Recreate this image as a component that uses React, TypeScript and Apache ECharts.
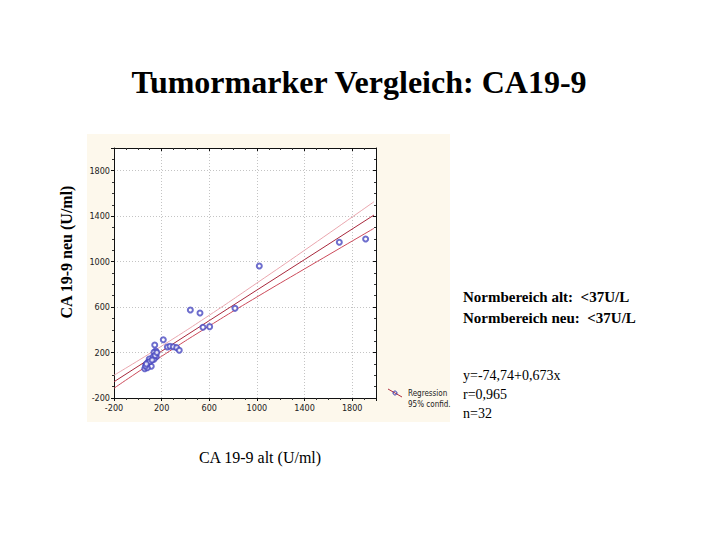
import React, { useEffect, useRef } from "react";
import * as echarts from "echarts";

// CA 19-9: alt (x) vs neu (y), U/ml
const altValues = [441, 522, 816, 547, 603, 1020, 1692, 1913, 214, 142, 150, 136, 248, 270, 298, 326, 348, 155, 125, 136, 96, 85, 113, 69, 58, 80, 65, 100, 145, 72, 160, 120];
const neuValues = [574, 548, 589, 422, 428, 962, 1170, 1199, 313, 266, 214, 202, 249, 255, 251, 243, 220, 163, 158, 141, 143, 114, 79, 90, 58, 67, 82, 120, 175, 100, 200, 135];

// regression line and 95% confidence band as drawn in the plot
const lineX = [-200, 200, 600, 1000, 1400, 1983];
const regressionY = [-57, 212, 481, 750, 1018, 1410];
const upperY = [0, 257, 528, 812, 1100, 1527];
const lowerY = [-114, 167, 434, 689, 936, 1293];

const axisTicks = { min: -200, max: 2000, interval: 400 };

const titleText = "Tumormarker Vergleich: CA19-9";
const xAxisTitle = "CA 19-9 alt (U/ml)";
const yAxisTitle = "CA 19-9 neu (U/ml)";
const normLines = ["Normbereich alt:  <37U/L", "Normbereich neu:  <37U/L"];
const statLines = ["y=-74,74+0,673x", "r=0,965", "n=32"];
const legendLines = ["Regression", "95% confid."];

const serif = '"Liberation Serif", "Times New Roman", serif';
const sans = '"Liberation Sans Narrow", "DejaVu Sans Condensed", "Liberation Sans", Arial, sans-serif';

export default function App() {
  const ref = useRef<HTMLDivElement>(null);
  useEffect(() => {
    if (!ref.current) return;
    const chart = echarts.init(ref.current, null, { renderer: "svg" });
    const pts = altValues.map((x, i) => [x, neuValues[i]]);
    const mk = (ys: number[]) => lineX.map((x, i) => [x, ys[i]]);
    const fmt = (v: number) => (v === axisTicks.max ? "" : String(v));
    const baseAxis = {
      min: axisTicks.min,
      max: axisTicks.max,
      interval: axisTicks.interval,
    };
    const axisLine = { show: true, onZero: false, lineStyle: { color: "#111" } };
    const split = { show: true, lineStyle: { color: "#c4c4c4", type: [1, 2], width: 1 } };
    const grid = { left: 114, top: 148, width: 262, height: 250 };
    chart.setOption({
      animation: false,
      backgroundColor: "#ffffff",
      grid: { ...grid, show: false },
      xAxis: [
        {
          type: "value",
          ...baseAxis,
          position: "bottom",
          axisLine,
          axisTick: { show: true, length: 3, lineStyle: { color: "#111" } },
          minorTick: { show: true, splitNumber: 4, length: 2, lineStyle: { color: "#333" } },
          axisLabel: { fontSize: 9, fontFamily: sans, color: "#222", margin: 5, formatter: fmt },
          splitLine: split,
        },
        {
          type: "value",
          ...baseAxis,
          position: "top",
          axisLine,
          axisTick: { show: true, inside: true, length: 3, lineStyle: { color: "#111" } },
          minorTick: { show: true, splitNumber: 4, length: 2, lineStyle: { color: "#333" } },
          axisLabel: { show: false },
          splitLine: { show: false },
        },
      ],
      yAxis: [
        {
          type: "value",
          ...baseAxis,
          position: "left",
          axisLine,
          axisTick: { show: true, length: 3, lineStyle: { color: "#111" } },
          minorTick: { show: true, splitNumber: 4, length: 2, lineStyle: { color: "#333" } },
          axisLabel: { fontSize: 9, fontFamily: sans, color: "#222", margin: 4, formatter: fmt },
          splitLine: split,
        },
        {
          type: "value",
          ...baseAxis,
          position: "right",
          axisLine,
          axisTick: { show: true, inside: true, length: 3, lineStyle: { color: "#111" } },
          minorTick: { show: true, splitNumber: 4, length: 2, lineStyle: { color: "#333" } },
          axisLabel: { show: false },
          splitLine: { show: false },
        },
      ],
      series: [
        {
          name: "Upper",
          type: "line",
          data: mk(upperY),
          smooth: true,
          showSymbol: false,
          lineStyle: { color: "#eaa6ae", width: 1 },
          z: 3,
        },
        {
          name: "Lower",
          type: "line",
          data: mk(lowerY),
          smooth: true,
          showSymbol: false,
          lineStyle: { color: "#cc4a5a", width: 1 },
          z: 3,
        },
        {
          name: "Regression",
          type: "line",
          data: mk(regressionY),
          showSymbol: false,
          lineStyle: { color: "#a8283c", width: 1 },
          z: 4,
        },
        {
          name: "Data",
          type: "scatter",
          data: pts,
          symbol: "emptyCircle",
          symbolSize: 5,
          itemStyle: { color: "#4a4ac0", borderColor: "#4a4ac0", borderWidth: 0.7 },
          z: 5,
        },
      ],
      graphic: [
        {
          type: "rect",
          shape: { x: 87, y: 134, width: 363, height: 288 },
          style: { fill: "#fdf8ec" },
          z: -10,
          silent: true,
        },
        {
          type: "rect",
          shape: { x: grid.left, y: grid.top, width: grid.width, height: grid.height },
          style: { fill: "#ffffff" },
          z: -9,
          silent: true,
        },
        {
          type: "text",
          x: 359,
          y: 82,
          style: {
            text: titleText,
            font: `bold 32px ${serif}`,
            fill: "#000",
            align: "center",
            verticalAlign: "middle",
          },
        },
        {
          type: "text",
          x: 66,
          y: 252,
          rotation: Math.PI / 2,
          style: {
            text: yAxisTitle,
            font: `bold 16px ${serif}`,
            fill: "#000",
            align: "center",
            verticalAlign: "middle",
          },
        },
        {
          type: "text",
          x: 260,
          y: 457,
          style: {
            text: xAxisTitle,
            font: `16px ${serif}`,
            fill: "#000",
            align: "center",
            verticalAlign: "middle",
          },
        },
        ...normLines.map((t, i) => ({
          type: "text",
          x: 463,
          y: 297 + i * 21,
          style: {
            text: t,
            font: `bold 15px ${serif}`,
            fill: "#000",
            align: "left",
            verticalAlign: "middle",
          },
        })),
        ...statLines.map((t, i) => ({
          type: "text",
          x: 463,
          y: 375 + i * 19,
          style: {
            text: t,
            font: `14px ${serif}`,
            fill: "#000",
            align: "left",
            verticalAlign: "middle",
          },
        })),
        {
          type: "line",
          shape: { x1: 388, y1: 389, x2: 402, y2: 397 },
          style: { stroke: "#b03040", lineWidth: 1 },
          z: 10,
        },
        {
          type: "circle",
          shape: { cx: 395, cy: 393, r: 2 },
          style: { fill: "none", stroke: "#3c3cb0", lineWidth: 1 },
          z: 11,
        },
        ...legendLines.map((t, i) => ({
          type: "text",
          x: 408,
          y: 393 + i * 11,
          style: {
            text: t,
            font: `8px ${sans}`,
            fill: "#222",
            align: "left",
            verticalAlign: "middle",
          },
        })),
      ],
    });
    return () => chart.dispose();
  }, []);
  return (
    <div
      ref={ref}
      style={{ position: "fixed", left: 0, top: 0, width: 720, height: 540 }}
    />
  );
}
